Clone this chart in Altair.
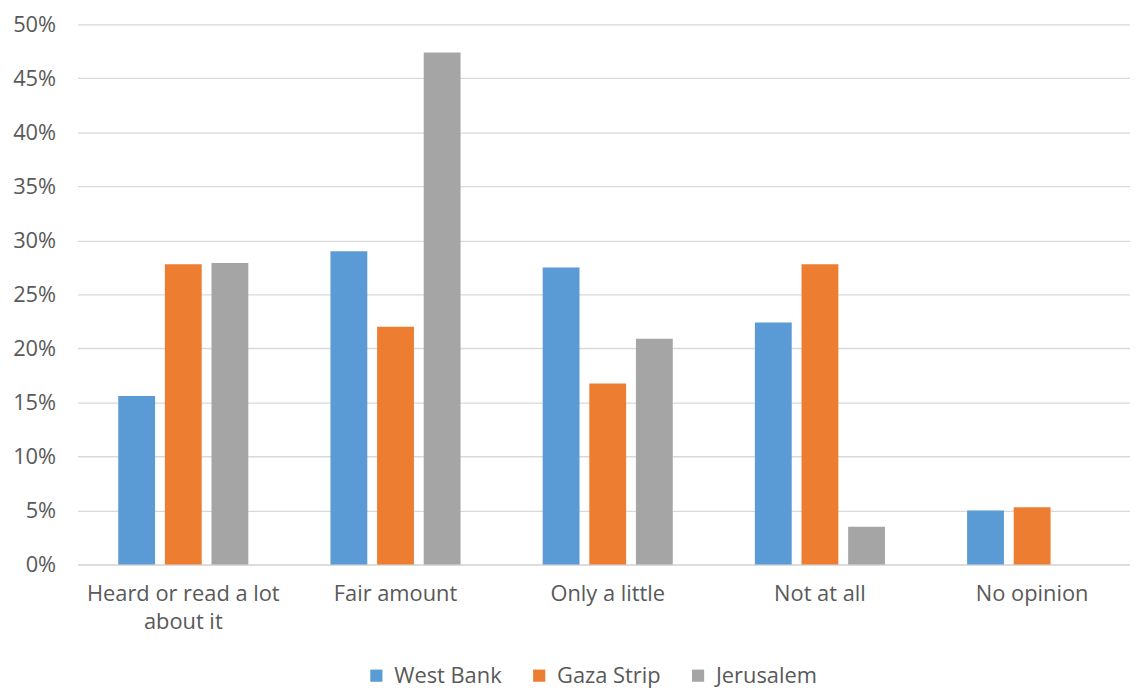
import altair as alt
import pandas as pd

categories = ["Heard or read a lot about it", "Fair amount", "Only a little", "Not at all", "No opinion"]
series = ["West Bank", "Gaza Strip", "Jerusalem"]
west_bank = [0.156, 0.290, 0.275, 0.224, 0.050]
gaza_strip = [0.278, 0.220, 0.1675, 0.278, 0.053]
jerusalem = [0.279, 0.474, 0.209, 0.035, 0.0]
colors = ["#5B9BD5", "#ED7D31", "#A5A5A5"]

rows = []
for name, vals in zip(series, [west_bank, gaza_strip, jerusalem]):
    for c, v in zip(categories, vals):
        rows.append({"category": c, "series": name, "value": v})
df = pd.DataFrame(rows)

FONT = "Open Sans"
TXT = "#595959"
FS = 22

chart = alt.Chart(df).mark_bar().encode(
    x=alt.X("category:N", sort=categories, title=None,
            scale=alt.Scale(paddingInner=0.387, paddingOuter=0.192),
            axis=alt.Axis(labelAngle=0, labelFontSize=FS, labelColor=TXT, labelFont=FONT,
                          ticks=False, domainColor="#d9d9d9", domainWidth=1.5,
                          labelPadding=19, labelLineHeight=29, labelBaseline="top",
                          labelLimit=400,
                          labelExpr="datum.label == 'Heard or read a lot about it' ? ['Heard or read a lot', 'about it'] : datum.label")),
    xOffset=alt.XOffset("series:N", sort=series,
                        scale=alt.Scale(paddingInner=0.21, paddingOuter=0)),
    y=alt.Y("value:Q", title=None,
            scale=alt.Scale(domain=[0, 0.5], nice=False),
            axis=alt.Axis(format=".0%", values=[i * 0.05 for i in range(11)],
                          labelFontSize=FS, labelColor=TXT, labelFont=FONT,
                          ticks=False, domain=False, labelPadding=22,
                          gridColor="#d9d9d9", gridWidth=1.3)),
    color=alt.Color("series:N", sort=series,
                    scale=alt.Scale(domain=series, range=colors),
                    legend=alt.Legend(title=None, orient="none", legendX=290, legendY=645,
                                      direction="horizontal", symbolType="square",
                                      symbolSize=150, symbolStrokeWidth=0,
                                      labelFontSize=FS, labelColor=TXT, labelFont=FONT,
                                      labelOffset=7, columnPadding=26)),
).properties(
    width=1068, height=544,
    autosize=alt.AutoSizeParams(type="none"),
    padding={"left": 70, "top": 14, "right": -8, "bottom": 126},
).configure_view(stroke=None)

chart.save("out.html", embed_options={"renderer": "svg", "actions": False})
